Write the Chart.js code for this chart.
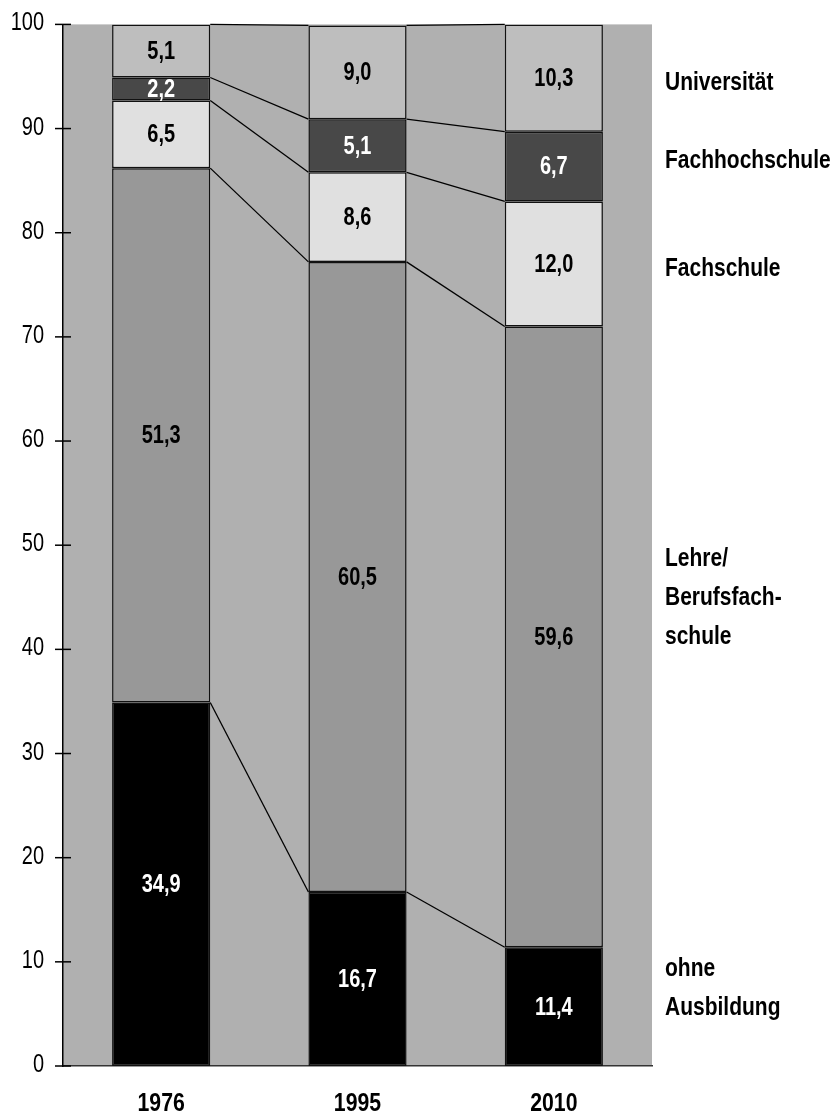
<!DOCTYPE html>
<html>
<head>
<meta charset="utf-8">
<script src="https://cdn.jsdelivr.net/npm/chart.js@4"></script>
<style>
  html, body { margin: 0; padding: 0; background: #fff; }
  #wrap { width: 837px; height: 1113px; }
</style>
</head>
<body>
<div id="wrap"><canvas id="c" width="837" height="1113"></canvas></div>
<script>
// Years on the category axis
const years = ['1976', '1995', '2010'];

// Shares (%) per qualification level, bottom to top of each stack
const ohneAusbildung = [34.9, 16.7, 11.4];
const lehre = [51.3, 60.5, 59.6];
const fachschule = [6.5, 8.6, 12.0];
const fachhochschule = [2.2, 5.1, 6.7];
const universitaet = [5.1, 9.0, 10.3];

// Y axis tick settings
const yMin = 0, yMax = 100, yStep = 10;

const FONT = '"Liberation Sans", Arial, sans-serif';

// Series labels shown to the right of the plot (lines, anchor value on the y scale)
const sideLabels = [
  { lines: ['Universität'], at: 94.4 },
  { lines: ['Fachhochschule'], at: 86.9 },
  { lines: ['Fachschule'], at: 76.5 },
  { lines: ['Lehre/', 'Berufsfach-', 'schule'], at: 44.9 },
  { lines: ['ohne', 'Ausbildung'], at: 7.4 }
];

const series = [
  { label: 'ohne Ausbildung', data: ohneAusbildung, color: '#000000', text: '#ffffff' },
  { label: 'Lehre/Berufsfachschule', data: lehre, color: '#989898', text: '#000000' },
  { label: 'Fachschule', data: fachschule, color: '#e0e0e0', text: '#000000' },
  { label: 'Fachhochschule', data: fachhochschule, color: '#484848', text: '#ffffff' },
  { label: 'Universität', data: universitaet, color: '#bebebe', text: '#000000' }
];

// Draw text squeezed horizontally for a condensed look
function narrowText(ctx, text, x, y, align, sx) {
  ctx.save();
  ctx.translate(x, y);
  ctx.scale(sx, 1);
  ctx.textAlign = align;
  ctx.fillText(text, 0, 0);
  ctx.restore();
}

// Grey plot background
const plotBackground = {
  id: 'plotBackground',
  beforeDraw(chart) {
    const { ctx, chartArea: a } = chart;
    ctx.save();
    ctx.fillStyle = '#b0b0b0';
    ctx.fillRect(a.left, a.top, a.right - a.left, a.bottom - a.top);
    ctx.restore();
  }
};

// Connector lines, tick marks, axis labels, value labels and series names
const overlays = {
  id: 'overlays',
  afterDatasetsDraw(chart) {
    const { ctx, chartArea: a } = chart;
    const yScale = chart.scales.y;
    const xScale = chart.scales.x;
    ctx.save();

    // lines joining each segment top to the same segment top in the next bar
    ctx.strokeStyle = '#000';
    ctx.lineWidth = 1.3;
    chart.data.datasets.forEach((ds, di) => {
      const els = chart.getDatasetMeta(di).data;
      for (let i = 0; i < els.length - 1; i++) {
        const e0 = els[i], e1 = els[i + 1];
        ctx.beginPath();
        ctx.moveTo(e0.x + e0.width / 2, e0.y);
        ctx.lineTo(e1.x - e1.width / 2, e1.y);
        ctx.stroke();
      }
    });

    // tick marks crossing the y axis
    ctx.lineWidth = 1.5;
    yScale.ticks.forEach(t => {
      const y = yScale.getPixelForValue(t.value);
      ctx.beginPath();
      ctx.moveTo(a.left - 8, y);
      ctx.lineTo(a.left + 8, y);
      ctx.stroke();
    });

    // y tick labels
    ctx.fillStyle = '#000';
    ctx.textBaseline = 'alphabetic';
    ctx.font = '25px ' + FONT;
    yScale.ticks.forEach(t => {
      const y = yScale.getPixelForValue(t.value);
      narrowText(ctx, String(t.value), 44, y + 6, 'right', 0.8);
    });

    // x category labels
    ctx.font = 'bold 25px ' + FONT;
    chart.data.labels.forEach((lab, i) => {
      narrowText(ctx, lab, xScale.getPixelForValue(i), 1111, 'center', 0.85);
    });

    // value labels in the middle of each segment
    ctx.font = 'bold 25px ' + FONT;
    ctx.textBaseline = 'middle';
    chart.data.datasets.forEach((ds, di) => {
      chart.getDatasetMeta(di).data.forEach((el, i) => {
        const v = ds.data[i];
        ctx.fillStyle = series[di].text;
        narrowText(ctx, v.toFixed(1).replace('.', ','), el.x, (el.y + el.base) / 2 + 1, 'center', 0.8);
      });
    });

    // series names to the right
    ctx.fillStyle = '#000';
    ctx.font = 'bold 25px ' + FONT;
    const lineH = 39;
    sideLabels.forEach(lab => {
      const cy = yScale.getPixelForValue(lab.at);
      const y0 = cy - (lab.lines.length - 1) * lineH / 2;
      lab.lines.forEach((ln, k) => narrowText(ctx, ln, a.right + 13, y0 + k * lineH, 'left', 0.84));
    });

    ctx.restore();
  }
};

new Chart(document.getElementById('c'), {
  type: 'bar',
  data: {
    labels: years,
    datasets: series.map(s => ({
      label: s.label,
      data: s.data,
      backgroundColor: s.color,
      borderColor: '#111',
      borderWidth: 1.5,
      borderSkipped: false,
      categoryPercentage: 1.0,
      barPercentage: 0.5
    }))
  },
  options: {
    responsive: false,
    animation: false,
    devicePixelRatio: 1,
    layout: { padding: { top: 24, right: 185, left: 0, bottom: 0 } },
    plugins: { legend: { display: false }, tooltip: { enabled: false } },
    scales: {
      x: {
        stacked: true,
        grid: { display: false },
        border: { display: true, color: '#333', width: 1.5 },
        ticks: { color: 'rgba(0,0,0,0)', font: { family: FONT, size: 24, weight: 'bold' }, padding: 22 },
        afterFit(scale) { scale.height = 47; }
      },
      y: {
        stacked: true,
        min: yMin,
        max: yMax,
        border: { display: true, color: '#000', width: 1.5 },
        grid: { display: false },
        ticks: { stepSize: yStep, color: 'rgba(0,0,0,0)', font: { family: FONT, size: 24 }, padding: 10 },
        afterFit(scale) { scale.width = 63; }
      }
    }
  },
  plugins: [plotBackground, overlays]
});
</script>
</body>
</html>
